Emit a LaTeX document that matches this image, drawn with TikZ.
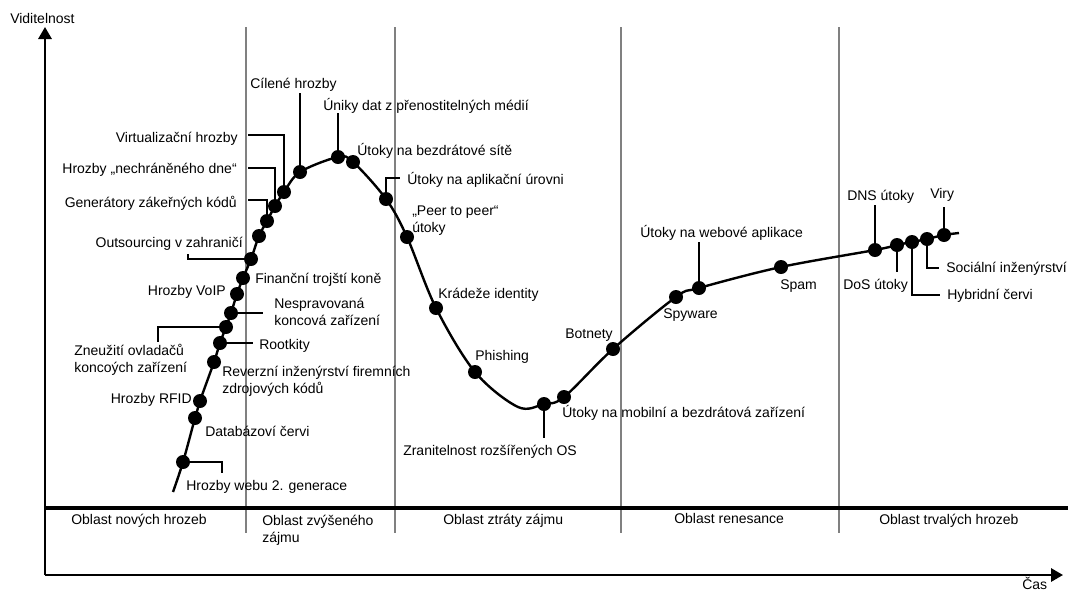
\documentclass[tikz,border=0pt]{standalone}
\usepackage{fontspec}
\setmainfont{Liberation Sans}
\usetikzlibrary{arrows.meta}
\definecolor{zonegray}{RGB}{128,128,128}
\begin{document}
\begin{tikzpicture}
[x=0.75pt,y=-0.75pt,
  dotdecorate/.style={shape=circle,fill,inner sep=0pt,minimum size=10.5pt},%
  curvedecorate/.style={line width=1.8pt},%
  leaderdecorate/.style={-,line width=1.5pt},%
  zonedecorate/.style={line width=1pt,draw=zonegray},%
  axisdecorate/.style={line width=1.5pt,-{Triangle[length=9pt,width=10pt]}},%
  textdecorate/.style={inner sep=0pt,font=\fontsize{10.5}{12.5}\selectfont,align=left}]
\useasboundingbox (0,0) rectangle (1068,590);
%% zones
\foreach \x in {246,395,621,839} {
  \draw[zonedecorate] (\x,27) -- (\x,533);
}
\coordinate (bandleft) at (45,508);
\coordinate (bandright) at (1068,508);
\draw[line width=3pt] (bandleft) -- (bandright);
%% axes
\coordinate (origin) at (45,575);
\coordinate (ytip) at (45,27);
\coordinate (xtip) at (1063,575);
\draw[axisdecorate] (origin) -- (ytip);
\draw[axisdecorate] (origin) -- (xtip);
%% dots
\foreach \nodename/\x/\y in {w2/183/462, dbc/195/418, rfid/200/401, rev/214/362,
  root/220/343, zneu/226/327, nesp/231/313, voip/237/294, fin/243/278,
  outs/251/259, mid/259/236, gen/267/221, nech/275/206, virt/284/192,
  cil/300/172, unik/338/157, bezd/353/162, apl/386/199, ptp/407/237,
  krad/436/308, phis/475/372, zran/544/404, mob/564/397, bot/613/349,
  spy/676/297, web/699/288, spam/781/267, dns/875/250, dos/897/245,
  hyb/912/242, soc/927/239, viry/944/235} {
  \node (\nodename) at (\x,\y) [dotdecorate] {};
}
%% curve
\coordinate (start) at (173,492);
\coordinate (valley) at (518,407);
\coordinate (end) at (959,233);
\draw[curvedecorate] plot[smooth,tension=0.55] coordinates {(start) (w2.center)
  (dbc.center) (rfid.center) (rev.center) (root.center) (zneu.center)
  (nesp.center) (voip.center) (fin.center) (outs.center) (mid.center)
  (gen.center) (nech.center) (virt.center) (cil.center) (unik.center)
  (bezd.center) (apl.center) (ptp.center) (krad.center) (phis.center)
  (valley) (zran.center) (mob.center) (bot.center) (spy.center)
  (web.center) (spam.center) (dns.center) (dos.center) (hyb.center)
  (soc.center) (viry.center) (end)};
%% leader ends
\foreach \nodename/\x/\y in {w2/222/473, outs/188/254, zneu/158/342,
  nesp/263/313, root/253/343, gen/248/200, nech/248/168, virt/248/135,
  cil/300/93, unik/338/113, apl/400/178, zran/544/438, web/699/242,
  dns/875/205, viry/944/207, dos/897/272, hyb/940/295, soc/939/268} {
  \coordinate (\nodename-end) at (\x,\y);
}
%% leaders
\path
\foreach \startnode/\how in {w2/-|, outs/-|, zneu/-|, gen/|-, nech/|-,
  virt/|-, apl/|-, hyb/|-, soc/|-, nesp/--, root/--, cil/--, unik/--,
  zran/--, web/--, dns/--, viry/--, dos/--} {
  (\startnode.center) edge[leaderdecorate,to path={\how (\tikztotarget)}] (\startnode-end)
};
%% labels (two-line ones sit on their last line)
\foreach \nodename/\x/\y/\txt in {cil/250/88/{Cílené hrozby},
  unik/323/110/{Úniky dat z přenostitelných médií},
  bezd/357/155/{Útoky na bezdrátové sítě},
  apl/407/184/{Útoky na aplikační úrovni},
  ptp/412/232/{„Peer to peer“\\útoky},
  fin/255/283/{Finanční trojští koně},
  nesp/274/325/{Nespravovaná\\koncová zařízení},
  root/259/349/{Rootkity},
  zneu/74/372/{Zneužití ovladačů\\koncoých zařízení},
  rev/222/393/{Reverzní inženýrství firemních\\zdrojových kódů},
  dbc/205/436/{Databázoví červi},
  w2/186/490/{Hrozby webu 2. generace},
  krad/438/298/{Krádeže identity},
  phis/475/360/{Phishing},
  zran/403/455/{Zranitelnost rozšířených OS},
  mob/562/417/{Útoky na mobilní a bezdrátová zařízení},
  bot/565/338/{Botnety},
  spy/663/318/{Spyware},
  web/640/237/{Útoky na webové aplikace},
  spam/780/289/{Spam},
  dns/847/200/{DNS útoky},
  viry/930/198/{Viry},
  dos/843/289/{DoS útoky},
  soc/946/272/{Sociální inženýrství},
  hyb/947/299/{Hybridní červi}} {
  \node (\nodename-label) at (\x,\y) [textdecorate,anchor=base west] {\txt};
}
\foreach \nodename/\x/\y/\txt in {virt/238/142/{Virtualizační hrozby},
  nech/237/173/{Hrozby „nechráněného dne“},
  gen/237/207/{Generátory zákeřných kódů},
  outs/243/247/{Outsourcing v zahraničí},
  voip/226/295/{Hrozby VoIP},
  rfid/192/403/{Hrozby RFID}} {
  \node (\nodename-label) at (\x,\y) [textdecorate,anchor=base east] {\txt};
}
%% zone names and axis names
\foreach \nodename/\x/\y/\txt in {zonenew/71/524/{Oblast nových hrozeb},
  zonehigh/262/542/{Oblast zvýšeného\\zájmu},
  zonelost/443/524/{Oblast ztráty zájmu},
  zoneren/674/523/{Oblast renesance},
  zonelast/879/524/{Oblast trvalých hrozeb},
  yname/10/23/{Viditelnost},
  xname/1022/589/{Čas}} {
  \node (\nodename) at (\x,\y) [textdecorate,anchor=base west] {\txt};
}
\end{tikzpicture}
\end{document}
